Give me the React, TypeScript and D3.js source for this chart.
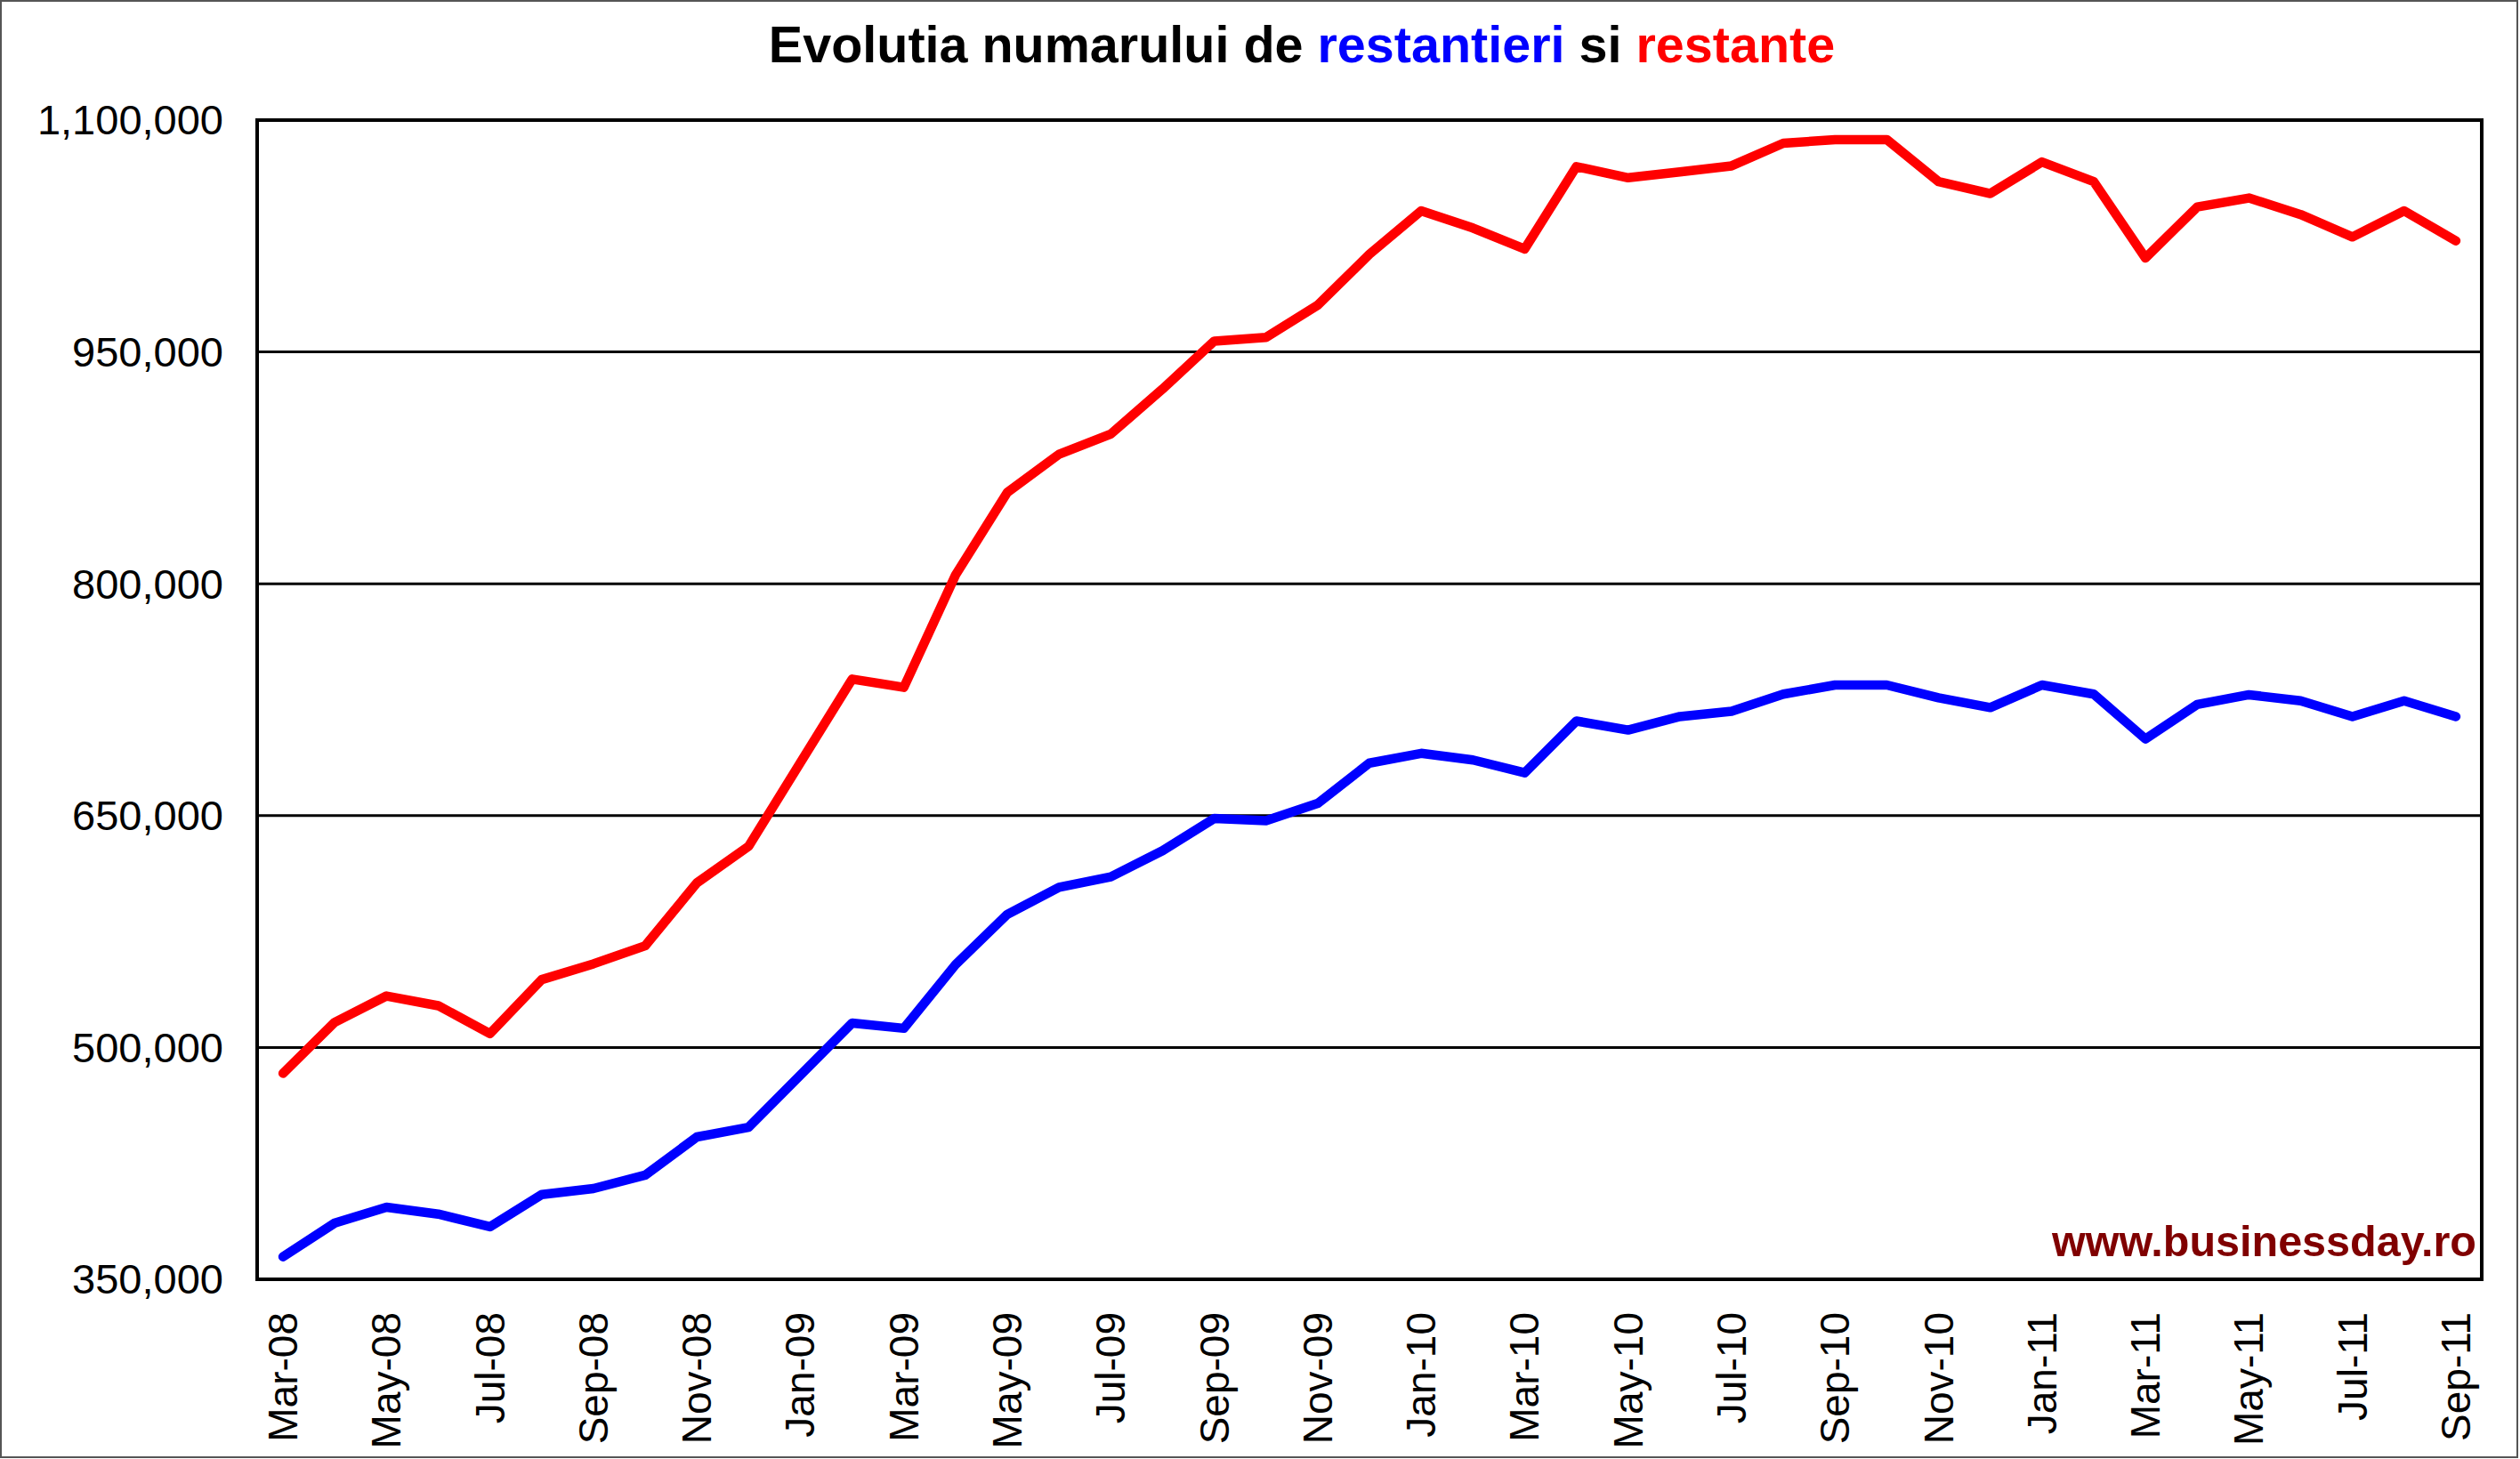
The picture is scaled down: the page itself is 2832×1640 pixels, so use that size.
import * as d3 from 'd3';

// categories (one per month)
const months = [
  'Mar-08', 'Apr-08', 'May-08', 'Jun-08', 'Jul-08', 'Aug-08', 'Sep-08', 'Oct-08', 'Nov-08', 'Dec-08',
  'Jan-09', 'Feb-09', 'Mar-09', 'Apr-09', 'May-09', 'Jun-09', 'Jul-09', 'Aug-09', 'Sep-09', 'Oct-09',
  'Nov-09', 'Dec-09', 'Jan-10', 'Feb-10', 'Mar-10', 'Apr-10', 'May-10', 'Jun-10', 'Jul-10', 'Aug-10',
  'Sep-10', 'Oct-10', 'Nov-10', 'Dec-10', 'Jan-11', 'Feb-11', 'Mar-11', 'Apr-11', 'May-11', 'Jun-11',
  'Jul-11', 'Aug-11', 'Sep-11',
];

// numarul de restantieri (blue)
const restantieri = [
  364600, 386400, 396600, 392200, 384000, 404800, 408700, 417400, 442100, 448400,
  482100, 515800, 512400, 553600, 586100, 603600, 610400, 627300, 648200, 646700,
  657900, 684000, 690300, 686000, 677700, 711200, 705400, 714100, 717500, 728600,
  734500, 734500, 726200, 719900, 734500, 728600, 699600, 721900, 728200, 724300,
  714100, 724300, 714100,
];

// restante (red)
const restante = [
  483300, 516300, 533300, 527000, 509000, 543900, 554100, 565800, 606500, 630200,
  684300, 738300, 733000, 805700, 859100, 883800, 896900, 926000, 957000, 959400,
  980300, 1013200, 1041300, 1030200, 1016600, 1069900, 1062700, 1066500, 1070400, 1085000,
  1087400, 1087400, 1060200, 1052500, 1072900, 1060200, 1010800, 1043800, 1049600, 1038900,
  1024400, 1041300, 1021900,
];

// y axis ticks
const yTicks = [350000, 500000, 650000, 800000, 950000, 1100000];

// layout
const W = 2832;
const H = 1640;
const left = 289;
const right = 2789;
const top = 135;
const bottom = 1438;
const font = '"Liberation Sans", Arial, sans-serif';

export default function App() {
  const x = d3.scalePoint<string>().domain(months).range([left, right]).padding(0.5);
  const y = d3.scaleLinear().domain([350000, 1100000]).range([bottom, top]);
  const fmt = d3.format(',');

  const line = d3.line<number>()
    .x((_, i) => x(months[i]) as number)
    .y(d => y(d));

  return (
    <svg
      width={W}
      height={H}
      style={{position: 'absolute', left: 0, top: 0, background: '#fff'}}
      fontFamily={font}
    >
      <rect x={1} y={1} width={W - 4} height={H - 3} fill="#fff" stroke="#555" strokeWidth={2} />

      {/* title */}
      <text x={1463} y={70} textAnchor="middle" fontSize={57.5} fontWeight="bold" fill="#000">
        Evolutia numarului de <tspan fill="#0000ff">restantieri</tspan> si{' '}
        <tspan fill="#ff0000">restante</tspan>
      </text>

      {/* gridlines */}
      {yTicks.map(t => (
        <line key={t} x1={left} x2={right} y1={y(t)} y2={y(t)} stroke="#000" strokeWidth={3} />
      ))}

      {/* y labels */}
      {yTicks.map(t => (
        <text key={t} x={251} y={y(t)} dy="0.35em" textAnchor="end" fontSize={47} fill="#000">
          {fmt(t)}
        </text>
      ))}

      {/* x labels, every other month */}
      {months.map((m, i) => i % 2 === 0 && (
        <text
          key={m}
          transform={`translate(${(x(m) as number) + 16},1475) rotate(-90)`}
          textAnchor="end"
          fontSize={46}
          fill="#000"
        >
          {m}
        </text>
      ))}

      {/* series */}
      <path d={line(restante) ?? ''} fill="none" stroke="#ff0000" strokeWidth={10.5}
        strokeLinejoin="round" strokeLinecap="round" />
      <path d={line(restantieri) ?? ''} fill="none" stroke="#0000ff" strokeWidth={10.5}
        strokeLinejoin="round" strokeLinecap="round" />

      {/* plot frame */}
      <rect x={left} y={top} width={right - left} height={bottom - top} fill="none" stroke="#000" strokeWidth={4} />

      {/* watermark */}
      <text x={2783} y={1412} textAnchor="end" fontSize={48.5} fontWeight="bold" fill="#800000">
        www.businessday.ro
      </text>
    </svg>
  );
}
